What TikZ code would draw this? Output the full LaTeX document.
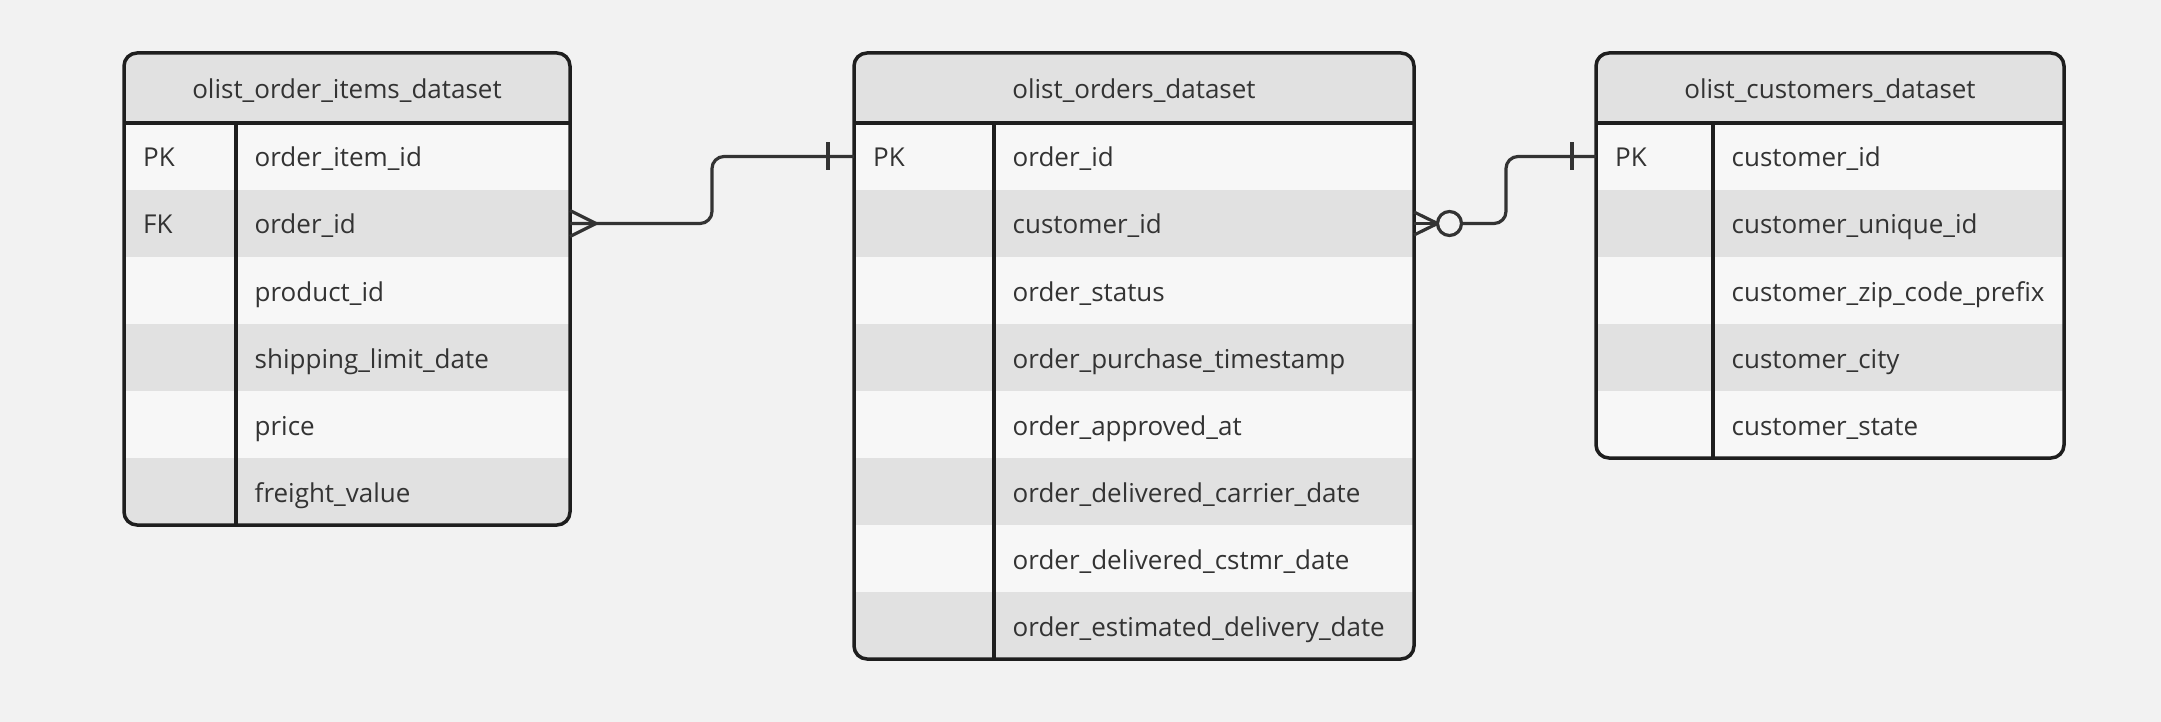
\documentclass[tikz,border=0pt]{standalone}
\usepackage{fontspec}
\setmainfont{Open Sans}
\usetikzlibrary{calc}
\definecolor{bg}{HTML}{F2F2F2}
\definecolor{rowa}{HTML}{F7F7F7}
\definecolor{rowb}{HTML}{E1E1E1}
\definecolor{ink}{HTML}{1E1E1E}
\definecolor{txt}{HTML}{333333}
\definecolor{wire}{HTML}{333333}
\tikzset{
  tbl/.style={draw=ink, line width=3.5pt, rounded corners=13pt, inner sep=0pt, outer sep=0pt},
  rule/.style={draw=ink, line width=3.5pt},
  cell/.style={font=\fontsize{26}{30}\selectfont, text=txt, anchor=base west, inner sep=0pt},
  ttl/.style={font=\fontsize{26}{30}\selectfont, text=txt, anchor=base, inner sep=0pt},
  conn/.style={draw=wire, line width=3.2pt, line join=round},
}
% #1 name, #2 left, #3 divider, #4 right, #5 rows, #6 title, #7 rows list
\newcommand\ertable[7]{%
  \begin{scope}
    \clip[rounded corners=13pt] (#2,53) rectangle (#4,{123+67*#5});
    \fill[rowb] (#2,53) rectangle (#4,123);
    \foreach \k/\f [count=\i] in {#7} {
      \ifodd\i \def\rc{rowa}\else\def\rc{rowb}\fi
      \fill[\rc] (#2,{123+67*(\i-1)}) rectangle (#4,{123+67*\i});
    }
  \end{scope}
  \node[ttl] (#1-t) at ({(#2+#4)/2},98.5) {#6};
  \foreach \k/\f [count=\i] in {#7} {
    \coordinate (#1-r\i) at (#2,{123+67*(\i-0.5)});
    \node[cell] (#1-k\i) at ({#2+19},{123+67*(\i-0.5)+10.5}) {\k};
    \node[cell] (#1-f\i) at ({#3+18.5},{123+67*(\i-0.5)+10.5}) {\f};
  }
  \draw[rule] (#2,123) -- (#4,123);
  \draw[rule] (#3,123) -- (#3,{123+67*#5});
  \node[tbl, anchor=north west, minimum width={(#4-#2)*1pt}, minimum height={(70+67*#5)*1pt}] (#1) at (#2,53) {};
}
\begin{document}
\begin{tikzpicture}[x=1pt,y=-1pt]
\fill[bg] (0,0) rectangle (2161,722);
\useasboundingbox (0,0) rectangle (2161,722);

\ertable{items}{124}{236}{570}{6}{olist\_order\_items\_dataset}%
  {PK/order\_item\_id, FK/order\_id, {}/product\_id, {}/shipping\_limit\_date, {}/price, {}/freight\_value}
\ertable{orders}{854}{994}{1414}{8}{olist\_orders\_dataset}%
  {PK/order\_id, {}/customer\_id, {}/order\_status, {}/order\_purchase\_timestamp, {}/order\_approved\_at, {}/order\_delivered\_carrier\_date, {}/order\_delivered\_cstmr\_date, {}/order\_estimated\_delivery\_date}
\ertable{cust}{1596}{1713}{2064}{5}{olist\_customers\_dataset}%
  {PK/customer\_id, {}/customer\_unique\_id, {}/customer\_zip\_code\_prefix, {}/customer\_city, {}/customer\_state}

% connector 1: items.order_id (many) -> orders.order_id (one)
\coordinate (c1a) at (items.east |- items-r2);
\coordinate (c1b) at (orders.west |- orders-r1);
\draw[conn, rounded corners=12pt] (c1a) -- ($(c1a)+(142,0)$) |- (c1b);
\draw[conn] ($(c1a)+(0,-13)$) -- ($(c1a)+(26,0)$) -- ($(c1a)+(0,13)$);
\draw[conn] ($(c1b)+(-26,-14)$) -- ($(c1b)+(-26,14)$);

% connector 2: orders.customer_id (zero or many) -> customers.customer_id (one)
\coordinate (c2a) at (orders.east |- orders-r2);
\coordinate (c2b) at (cust.west |- cust-r1);
\coordinate (c2o) at ($(c2a)+(35.5,0)$);
\draw[conn] ($(c2a)+(0,-11.5)$) -- ($(c2a)+(23.5,0)$) -- ($(c2a)+(0,11.5)$);
\draw[conn] (c2a) -- ($(c2a)+(23.5,0)$);
\draw[conn, rounded corners=12pt] ($(c2o)+(12,0)$) -- ($(c2a)+(92,0)$) |- (c2b);
\draw[conn, fill=bg] (c2o) circle[radius=12];
\draw[conn] ($(c2b)+(-24,-14)$) -- ($(c2b)+(-24,14)$);
\draw[conn] (c1a) -- ($(c1a)+(26,0)$);
\end{tikzpicture}
\end{document}
